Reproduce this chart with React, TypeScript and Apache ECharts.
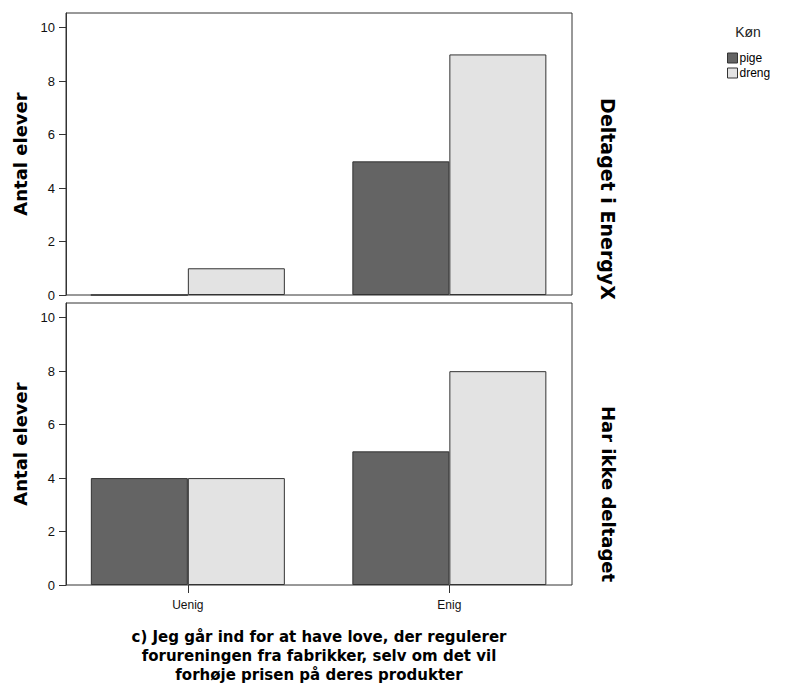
import React, { useEffect, useRef } from "react";
import * as echarts from "echarts";

const categories = ["Uenig", "Enig"];
const panelNames = ["Deltaget i EnergyX", "Har ikke deltaget"];
const seriesNames = ["pige", "dreng"];
const pigeTop = [0, 5];
const drengTop = [1, 9];
const pigeBottom = [4, 5];
const drengBottom = [4, 8];
const yTicks = [0, 2, 4, 6, 8, 10];
const xTitleLines = [
  "c) Jeg går ind for at have love, der regulerer",
  "forureningen fra fabrikker, selv om det vil",
  "forhøje prisen på deres produkter",
];
const yTitle = "Antal elever";
const legendTitle = "Køn";

const PIGE = "#646464";
const DRENG = "#e3e3e3";
const EDGE = "#333333";
const SANS = "Liberation Sans, Arial, sans-serif";
const BOLD = "DejaVu Sans, sans-serif";

export default function App() {
  const ref = useRef<HTMLDivElement>(null);
  useEffect(() => {
    if (!ref.current) return;
    const chart = echarts.init(ref.current, undefined, { renderer: "svg" });
    const grids = [
      { left: 66, top: 13, width: 506, height: 282 },
      { left: 66, top: 303, width: 506, height: 282 },
    ];
    const xAxes = grids.map((_, gi) => ({
      type: "value",
      gridIndex: gi,
      min: -0.466,
      max: 1.469,
      splitLine: { show: false },
      axisLine: { show: false, onZero: false },
      axisTick:
        gi === 1
          ? { show: true, customValues: [0, 1], length: 8, lineStyle: { color: EDGE } }
          : { show: false },
      axisLabel:
        gi === 1
          ? {
              show: true,
              customValues: [0, 1],
              formatter: (v: number) => categories[Math.round(v)] ?? "",
              margin: 14,
              fontSize: 12,
              fontFamily: SANS,
              color: "#111",
            }
          : { show: false },
    }));
    const yAxes = grids.map((_, gi) => ({
      type: "value",
      gridIndex: gi,
      position: "left",
      min: 0,
      max: 10.55,
      splitLine: { show: false },
      axisLine: { show: true, onZero: false, lineStyle: { color: EDGE } },
      axisTick: { show: true, customValues: yTicks, length: 7, lineStyle: { color: EDGE } },
      axisLabel: {
        customValues: yTicks,
        margin: 11,
        fontSize: 13,
        fontFamily: SANS,
        color: "#111",
      },
    }));
    const panelData = [
      [pigeTop, drengTop],
      [pigeBottom, drengBottom],
    ];
    const colors = [PIGE, DRENG];
    const series: any[] = [];
    panelData.forEach((pd, gi) => {
      pd.forEach((vals, si) => {
        series.push({
          type: "bar",
          name: seriesNames[si],
          xAxisIndex: gi,
          yAxisIndex: gi,
          barWidth: 97,
          barGap: "0%",
          data: categories.map((_, ci) => [ci, vals[ci]]),
          itemStyle: { color: colors[si], borderColor: EDGE, borderWidth: 1 },
          emphasis: { disabled: true },
        });
      });
    });
    const graphics: any[] = [
      {
        type: "text",
        x: 319,
        y: 627,
        style: {
          text: xTitleLines.join("\n"),
          align: "center",
          verticalAlign: "top",
          font: `bold 15px ${BOLD}`,
          lineHeight: 19,
          fill: "#000",
        },
      },
      {
        type: "text",
        x: 20,
        y: 154,
        rotation: Math.PI / 2,
        style: { text: yTitle, align: "center", verticalAlign: "middle", font: `bold 18px ${BOLD}`, fill: "#000" },
      },
      {
        type: "text",
        x: 20,
        y: 444,
        rotation: Math.PI / 2,
        style: { text: yTitle, align: "center", verticalAlign: "middle", font: `bold 18px ${BOLD}`, fill: "#000" },
      },
      {
        type: "text",
        x: 608,
        y: 199,
        rotation: -Math.PI / 2,
        style: { text: panelNames[0], align: "center", verticalAlign: "middle", font: `bold 19px ${BOLD}`, fill: "#000" },
      },
      {
        type: "text",
        x: 608,
        y: 494,
        rotation: -Math.PI / 2,
        style: { text: panelNames[1], align: "center", verticalAlign: "middle", font: `bold 18px ${BOLD}`, fill: "#000" },
      },
      {
        type: "text",
        x: 748,
        y: 32,
        style: { text: legendTitle, align: "center", verticalAlign: "middle", font: `14px ${SANS}`, fill: "#222" },
      },
    ];
    chart.setOption({
      animation: false,
      backgroundColor: "#fff",
      grid: grids.map((g) => ({ ...g, show: true, borderColor: EDGE, borderWidth: 1, backgroundColor: "transparent" })),
      xAxis: xAxes,
      yAxis: yAxes,
      legend: {
        data: seriesNames,
        orient: "vertical",
        left: 727,
        top: 52,
        padding: 0,
        itemWidth: 10,
        itemHeight: 10,
        itemGap: 3,
        icon: "rect",
        selectedMode: false,
        itemStyle: { borderColor: EDGE, borderWidth: 1 },
        textStyle: { fontSize: 12, fontFamily: SANS, color: "#000", padding: [0, 0, 0, -3] },
      },
      series,
      graphic: graphics,
    });
    return () => chart.dispose();
  }, []);
  return <div ref={ref} style={{ position: "absolute", left: 0, top: 0, width: 787, height: 693 }} />;
}
